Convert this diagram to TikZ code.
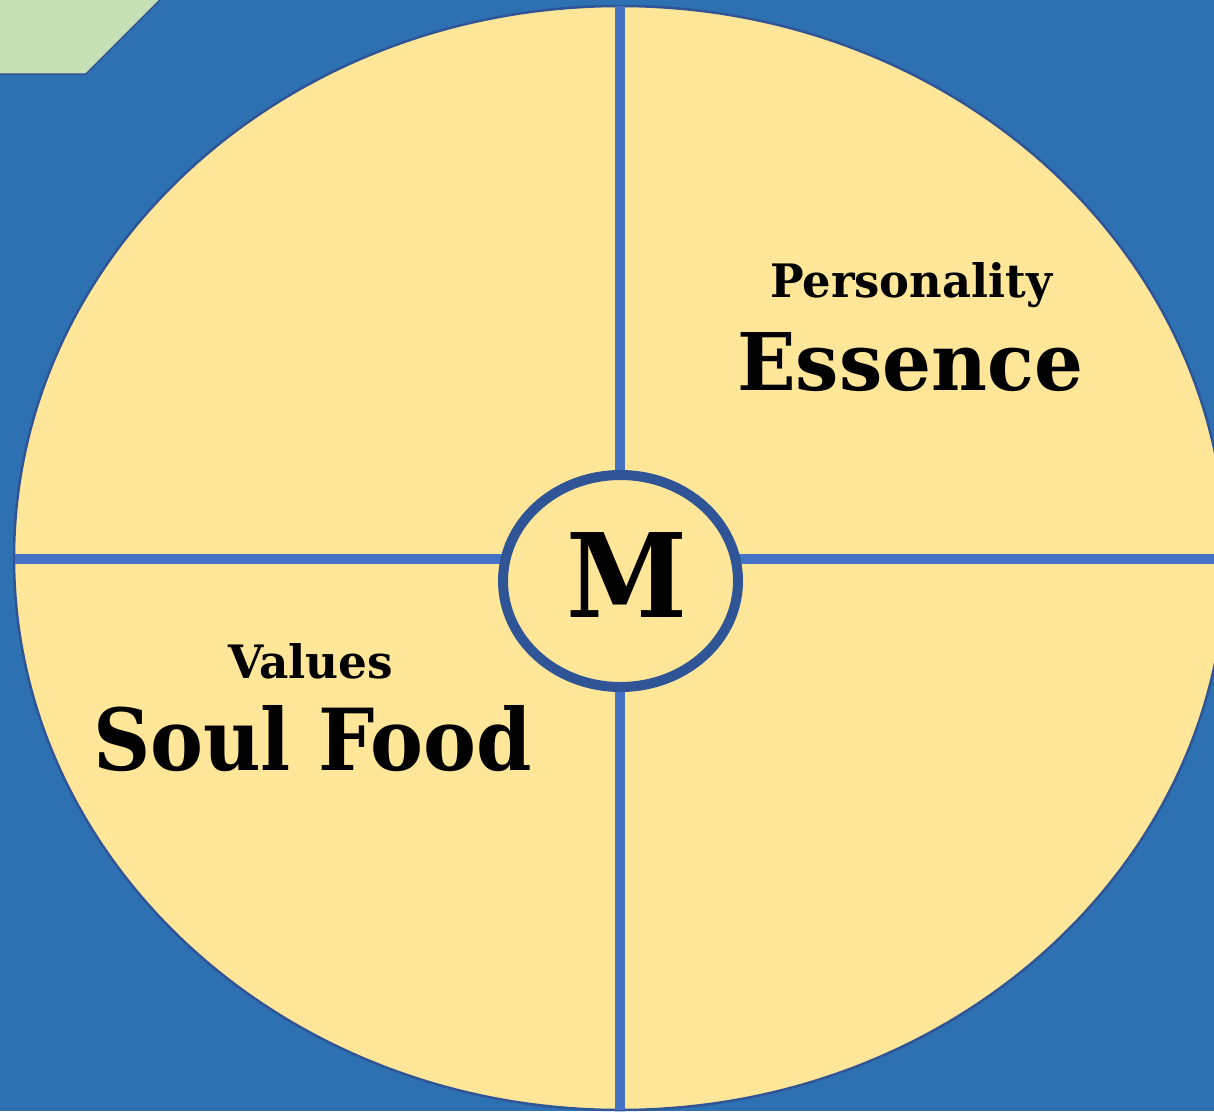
\documentclass[tikz,border=0pt]{standalone}
\usepackage{graphicx}
\usepackage{fontspec}
\setmainfont{DejaVu Serif}
\definecolor{bgblue}{HTML}{2E71B2}
\definecolor{pale}{HTML}{FFE699}
\definecolor{rimblue}{HTML}{2F5597}
\definecolor{crossblue}{HTML}{4472C4}
\definecolor{palegreen}{HTML}{C5E0B4}
\tikzset{
  crossline/.style={crossblue, line width=10pt},
  label/.style={inner sep=0pt, outer sep=0pt, anchor=base west, text=black, font=\bfseries},
}
\begin{document}
\begin{tikzpicture}[x=1pt,y=-1pt]
\useasboundingbox (0,0) rectangle (1214,1111);
\clip (0,0) rectangle (1214,1111);
\fill[bgblue] (0,0) rectangle (1214,1111);
% big disc
\draw[rimblue, line width=2.5pt, fill=pale] (620,558) ellipse [x radius=606, y radius=552];
% cross lines
\coordinate (top) at (620,6);
\coordinate (bottom) at (620,1110);
\coordinate (left) at (15,559);
\coordinate (right) at (1226,559);
\draw[crossline] (top) -- (bottom);
\draw[crossline] (left) -- (right);
% central circle
\draw[rimblue, line width=10pt, fill=pale] (620.5,581) ellipse [x radius=117.5, y radius=106];
% labels
\node[label] (pers) at (770,297) {\resizebox{282pt}{35pt}{Personality}};
\node[label] (ess) at (737,390) {\resizebox{346pt}{58pt}{Essence}};
\node[label] (val) at (228,678) {\resizebox{165pt}{35pt}{Values}};
\node[label] (soul) at (93,770) {\resizebox{439pt}{65pt}{Soul Food}};
\node[label] (m) at (566,617) {\resizebox{121pt}{85pt}{M}};
% green corner shape
\draw[rimblue, line width=1.5pt, fill=palegreen] (-5,74) -- (86,74) -- (167,-7) -- (-5,-7) -- cycle;
\end{tikzpicture}
\end{document}
